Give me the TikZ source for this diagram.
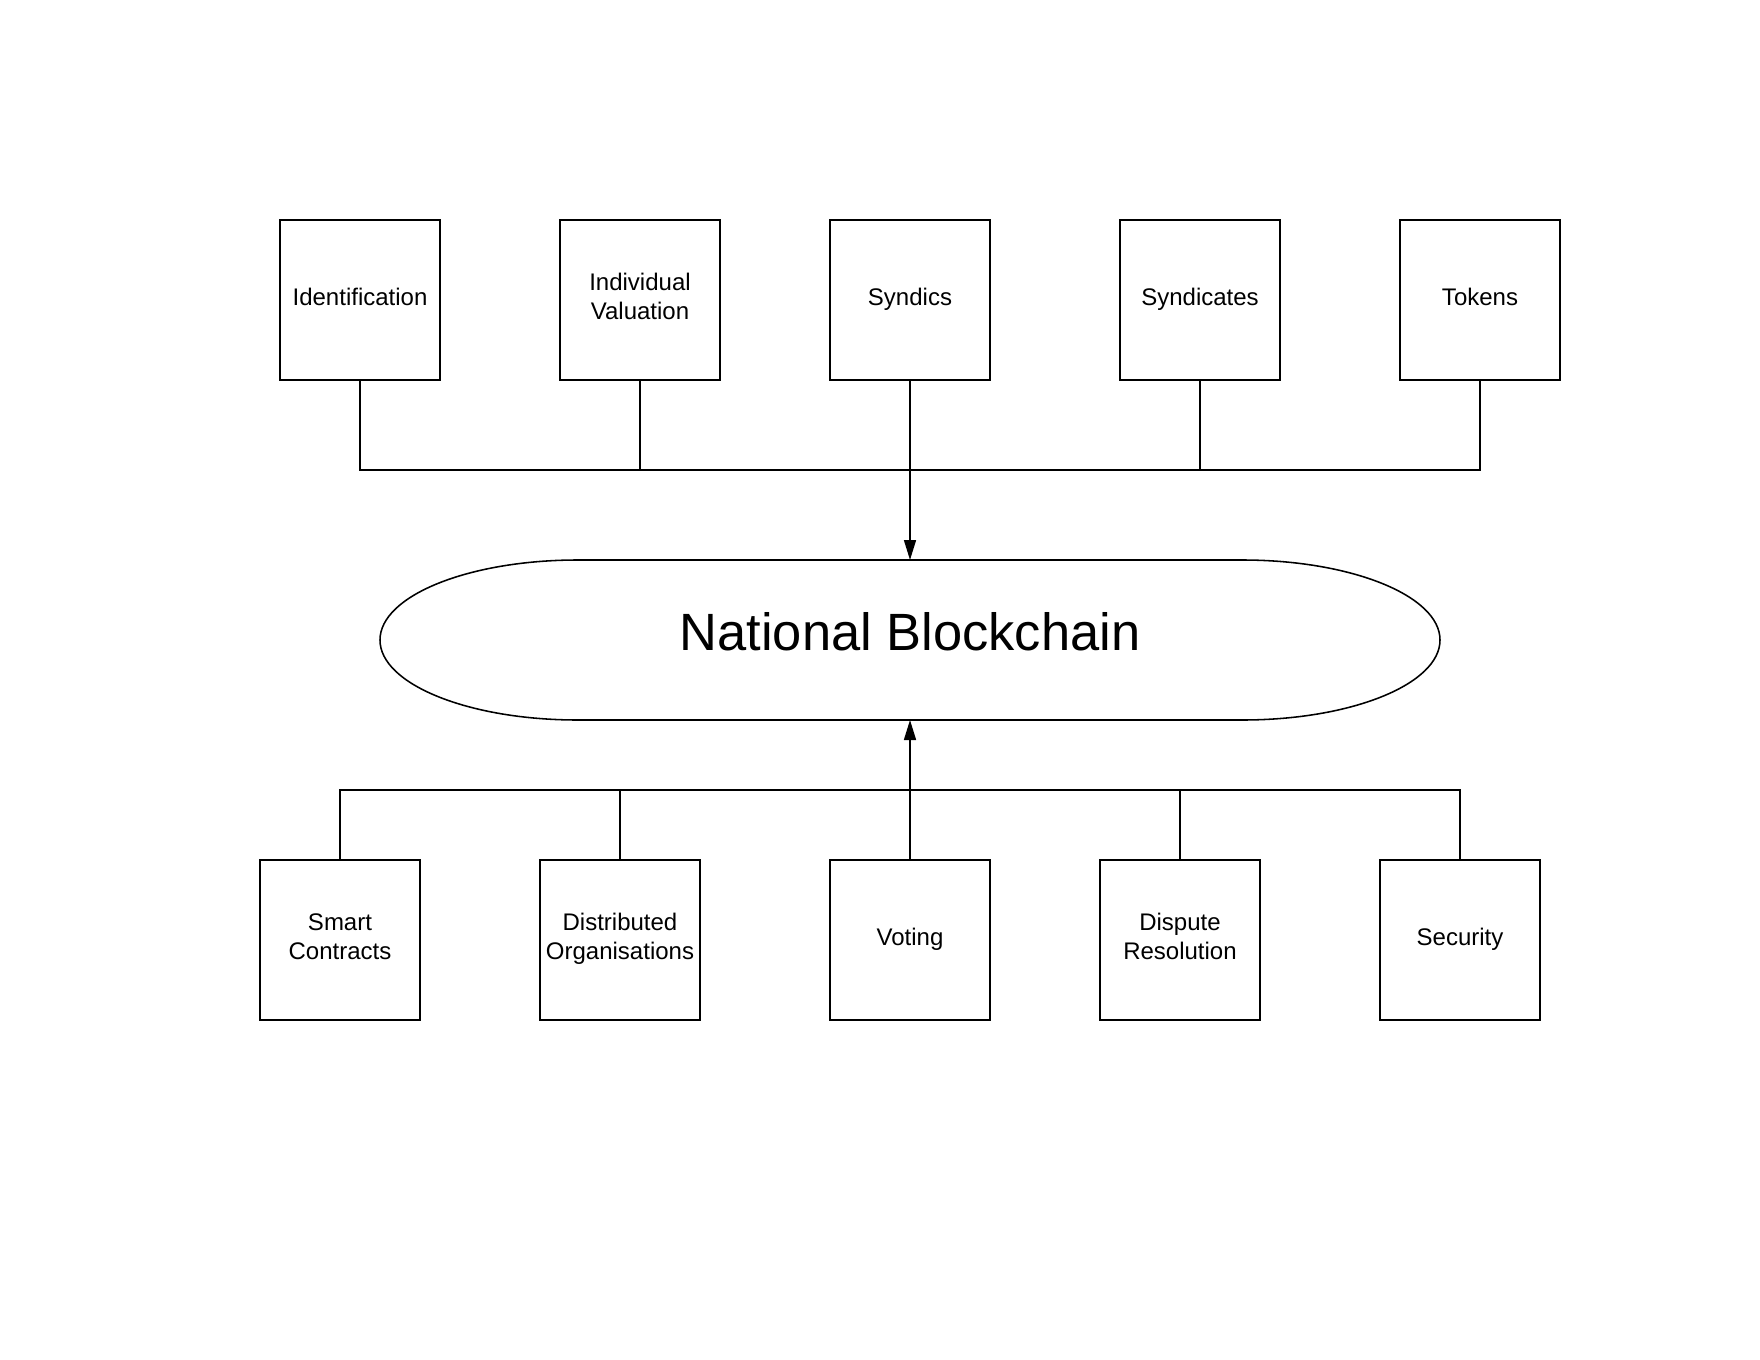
\documentclass[tikz,border=0pt]{standalone}
\usepackage{fontspec}
\setmainfont{Liberation Sans}
\usetikzlibrary{arrows.meta}

\tikzset{
  part/.style={draw, line width=0.7pt, minimum width=72pt, minimum height=72pt,
    inner sep=0pt, align=center, text height=7.5pt, text depth=2.7pt,
    font=\fontsize{10.8}{13}\selectfont},
  tall/.style={text height=20.5pt},
  link/.style={line width=0.7pt},
  feed/.style={line width=0.7pt, -{Triangle[length=9pt,width=5.4pt]}}
}

\begin{document}
\begin{tikzpicture}[x=0.45pt, y=-0.45pt]
  \useasboundingbox (0,0) rectangle (1760,1360);

  % top row
  \node[part] (ident)      at (360,300)  {Identification};
  \node[part,tall] (indval) at (640,300) {Individual\\Valuation};
  \node[part] (syndics)    at (910,300)  {Syndics};
  \node[part] (syndicates) at (1200,300) {Syndicates};
  \node[part] (tokens)     at (1480,300) {Tokens};

  % the chain
  \node[minimum width=477pt, minimum height=72pt, inner sep=0pt, outer sep=0pt,
        text depth=7.6pt, font=\fontsize{23.6}{28}\selectfont]
        (chain) at (910,640) {National Blockchain};
  \draw[link] ([xshift=89pt]chain.north west) -- ([xshift=-89pt]chain.north east)
    arc[start angle=90, end angle=-90, x radius=89pt, y radius=36pt]
    -- ([xshift=89pt]chain.south west)
    arc[start angle=270, end angle=90, x radius=89pt, y radius=36pt] -- cycle;

  % bottom row
  \node[part,tall] (smart)   at (340,940)  {Smart\\Contracts};
  \node[part,tall] (distorg) at (620,940)  {Distributed\\Organisations};
  \node[part] (voting)       at (910,940)  {Voting};
  \node[part,tall] (dispute) at (1180,940) {Dispute\\Resolution};
  \node[part] (security)     at (1460,940) {Security};

  \coordinate (topbus) at (910,470);
  \coordinate (botbus) at (910,790);

  \foreach \n in {ident,indval,syndicates,tokens}
    \draw[link] (\n.south) |- (topbus);
  \draw[feed] (syndics.south) -- (chain.north);

  \foreach \n in {smart,distorg,dispute,security}
    \draw[link] (\n.north) |- (botbus);
  \draw[feed] (voting.north) -- (chain.south);
\end{tikzpicture}
\end{document}
